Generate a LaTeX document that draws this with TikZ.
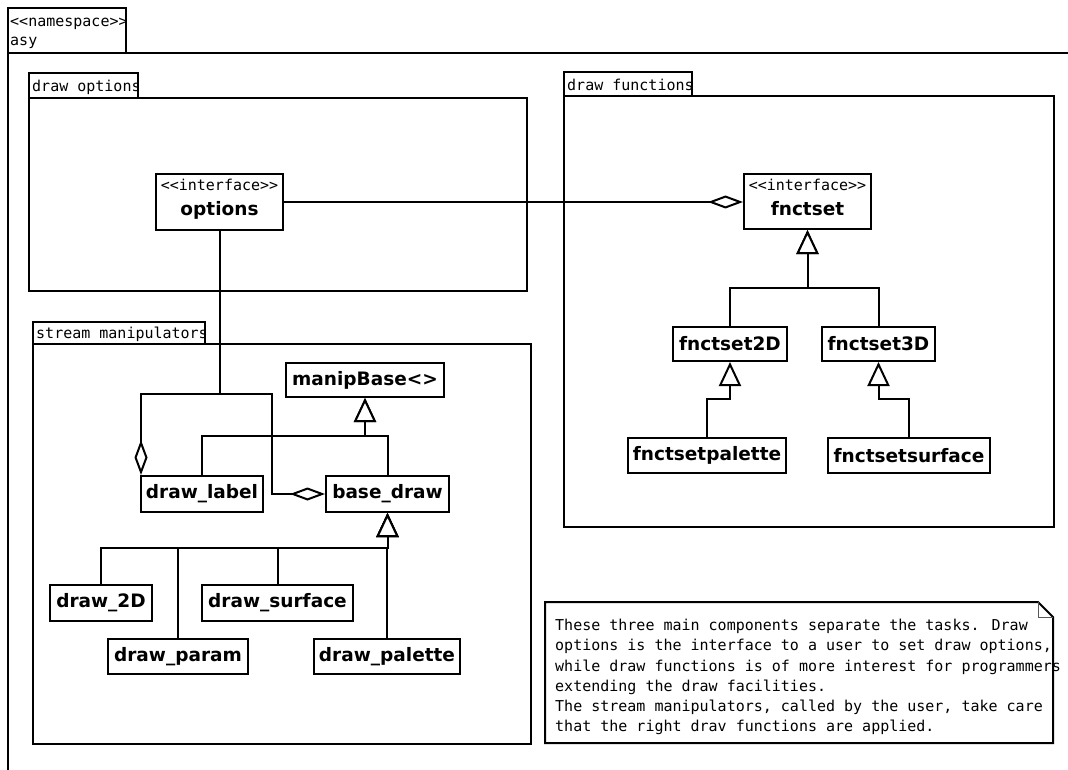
\documentclass[tikz,border=0pt]{standalone}
\usepackage{fontspec}
\setmainfont{DejaVu Sans}
\newfontfamily\monofnt{DejaVu Sans Mono}
\usetikzlibrary{arrows.meta}
\tikzset{
  lw/.style={line width=2pt},
  pkg/.style={draw, lw},
  cls/.style={draw, lw, inner sep=0pt, font=\fontsize{18.5}{22}\selectfont\bfseries},
  lbl/.style={font=\fontsize{15}{18}\monofnt, inner sep=0pt, anchor=base west},
  gen/.style={lw, -{Triangle[length=24pt, width=22pt, fill=white, line width=2pt]}},
  agg/.style={lw, -{Diamond[length=35pt, width=13pt, fill=white, line width=2pt]}},
}
\begin{document}
\begin{tikzpicture}[x=1pt, y=-1pt]
\useasboundingbox (0,0) rectangle (1068,770);
% namespace
\draw[pkg] (8,53) |- (126,8) -- (126,53);
\draw[pkg] (8,770) -- (8,53) -- (1068,53);
\node[lbl] (nsst) at (10,27) {<<namespace>>};
\node[lbl] (nsname) at (10,46) {asy};
% draw options package
\draw[pkg] (29,98) rectangle (138,73);
\draw[pkg] (29,98) rectangle (527,291);
\node[lbl] (pkgopt) at (32,92) {draw options};
% draw functions package
\draw[pkg] (564,96) rectangle (692,72);
\draw[pkg] (564,96) rectangle (1054,527);
\node[lbl] (pkgfn) at (567,91) {draw functions};
% stream manipulators package
\draw[pkg] (33,344) rectangle (205,322);
\draw[pkg] (33,344) rectangle (531,744);
\node[lbl] (pkgsm) at (36,338) {stream manipulators};

% classes
\node[cls, minimum width=127pt, minimum height=56pt] (options) at (219.5,202) {};
\node[lbl, anchor=base] at (219.5,191) {<<interface>>};
\node[font=\fontsize{18.5}{22}\selectfont\bfseries, anchor=base, inner sep=0pt] at (219.5,216) {options};

\node[cls, minimum width=127pt, minimum height=55pt] (fnctset) at (807.5,201.5) {};
\node[lbl, anchor=base] at (807.5,191) {<<interface>>};
\node[font=\fontsize{18.5}{22}\selectfont\bfseries, anchor=base, inner sep=0pt] at (807.5,216) {fnctset};

\node[cls, minimum width=114pt, minimum height=34pt] (fnctset2D) at (730,344) {fnctset2D};
\node[cls, minimum width=113pt, minimum height=34pt] (fnctset3D) at (878.5,344) {fnctset3D};
\node[cls, minimum width=158pt, minimum height=35pt] (fnctsetpalette) at (707,455.5) {fnctsetpalette};
\node[cls, minimum width=162pt, minimum height=35pt] (fnctsetsurface) at (909,455.5) {fnctsetsurface};

\node[cls, minimum width=158pt, minimum height=34pt] (manipBase) at (365,380) {manipBase<>};
\node[cls, minimum width=123pt, minimum height=36pt] (baseDraw) at (387.5,494) {base\_draw};
\node[cls, minimum width=122pt, minimum height=36pt] (drawLabel) at (202,494) {draw\_label};
\node[cls, minimum width=102pt, minimum height=36pt] (draw2D) at (101,603) {draw\_2D};
\node[cls, minimum width=151pt, minimum height=36pt] (drawSurface) at (277.5,603) {draw\_surface};
\node[cls, minimum width=140pt, minimum height=35pt] (drawParam) at (178,656.5) {draw\_param};
\node[cls, minimum width=146pt, minimum height=35pt] (drawPalette) at (387,656.5) {draw\_palette};

% junctions
\coordinate (jFn) at (807.5,288);
\coordinate (jP2) at (720,399);
\coordinate (jP3) at (895,399);
\coordinate (jMB) at (365,436);
\coordinate (jOpt) at (219.5,394);
\coordinate (jOptR) at (272,394);
\coordinate (jBD) at (387.5,548);

% connectors
\draw[agg] (options.east) -- (options.east -| fnctset.west);
\draw[gen] (fnctset2D.north) |- (jFn) -- (fnctset.south);
\draw[gen] (fnctset3D.north) |- (jFn) -- (fnctset.south);
\draw[gen] (fnctsetpalette.north) |- (jP2) -| (fnctset2D.south);
\draw[gen] (fnctsetsurface.north) |- (jP3) -| (fnctset3D.south);
\draw[gen] (drawLabel.north) |- (jMB) -- (manipBase.south);
\draw[gen] (baseDraw.north) |- (jMB) -- (manipBase.south);
\draw[agg] (options.south) -- (jOpt) -| ([xshift=1pt]drawLabel.north west);
\draw[agg] (options.south) -- (jOpt) -- (jOptR) |- (baseDraw.west);
\draw[gen] (draw2D.north) |- (jBD) -- (baseDraw.south);
\draw[gen] (drawParam.north) |- (jBD) -- (baseDraw.south);
\draw[gen] (drawSurface.north) |- (jBD) -- (baseDraw.south);
\draw[gen] (drawPalette.north) |- (jBD) -- (baseDraw.south);

% note
\draw[lw] (545,602) -- (1038,602) -- (1053,617) -- (1053,743) -- (545,743) -- cycle;
\draw[line width=1pt, gray!70!black] (1038,602) |- (1053,617);
\node[lbl, anchor=north west, align=left, font=\fontsize{15}{20.2}\monofnt] (note) at (555,619)
{These three main components separate the tasks. Draw\\
options is the interface to a user to set draw options,\\
while draw functions is of more interest for programmers\\
extending the draw facilities.\\
The stream manipulators, called by the user, take care\\
that the right drav functions are applied.};
\end{tikzpicture}
\end{document}
